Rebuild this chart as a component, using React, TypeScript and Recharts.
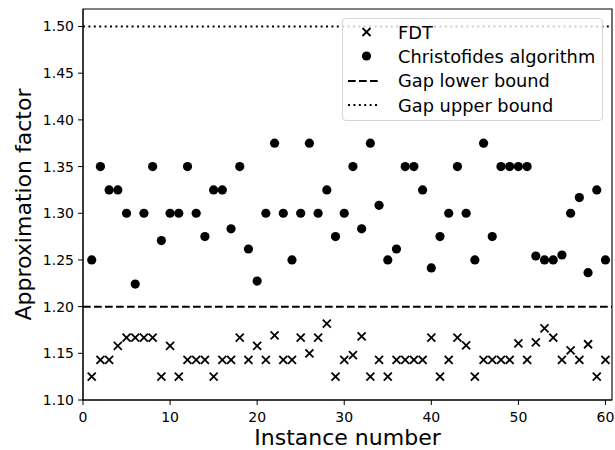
import {
  ScatterChart,
  Scatter,
  XAxis,
  YAxis,
  ReferenceLine,
  ReferenceArea,
  Label,
} from 'recharts'

// Instance numbers 1..60
const INSTANCES = [
  1, 2, 3, 4, 5, 6, 7, 8, 9, 10, 11, 12, 13, 14, 15, 16, 17, 18, 19, 20,
  21, 22, 23, 24, 25, 26, 27, 28, 29, 30, 31, 32, 33, 34, 35, 36, 37, 38, 39, 40,
  41, 42, 43, 44, 45, 46, 47, 48, 49, 50, 51, 52, 53, 54, 55, 56, 57, 58, 59, 60,
]

// Approximation factors
const FDT = [
  1.125, 1.1429, 1.1429, 1.1579, 1.1667, 1.1667, 1.1667, 1.1667, 1.125, 1.1579,
  1.125, 1.1429, 1.1429, 1.1429, 1.125, 1.1429, 1.1429, 1.1667, 1.1429, 1.1579,
  1.1429, 1.1692, 1.1429, 1.1429, 1.1667, 1.15, 1.1667, 1.1818, 1.125, 1.1429,
  1.1481, 1.1682, 1.125, 1.1429, 1.125, 1.1429, 1.1429, 1.1429, 1.1429, 1.1667,
  1.125, 1.1429, 1.1667, 1.1586, 1.125, 1.1429, 1.1429, 1.1429, 1.1429, 1.1607,
  1.1429, 1.1618, 1.1768, 1.1667, 1.1429, 1.1532, 1.1429, 1.1597, 1.125, 1.1429,
]

const CHRISTOFIDES = [
  1.25, 1.35, 1.325, 1.325, 1.3, 1.2242, 1.3, 1.35, 1.2707, 1.3,
  1.3, 1.35, 1.3, 1.275, 1.325, 1.325, 1.2833, 1.35, 1.2617, 1.2274,
  1.3, 1.375, 1.3, 1.25, 1.3, 1.375, 1.3, 1.325, 1.275, 1.3,
  1.35, 1.2833, 1.375, 1.3085, 1.25, 1.2617, 1.35, 1.35, 1.325, 1.2414,
  1.275, 1.3, 1.35, 1.3, 1.25, 1.375, 1.275, 1.35, 1.35, 1.35,
  1.35, 1.2542, 1.25, 1.25, 1.2553, 1.3, 1.3168, 1.2364, 1.325, 1.25,
]

const GAP_LOWER = 1.2
const GAP_UPPER = 1.5

const X_TICKS = [0, 10, 20, 30, 40, 50, 60]
const Y_TICKS = [1.1, 1.15, 1.2, 1.25, 1.3, 1.35, 1.4, 1.45, 1.5]
const X_DOMAIN: [number, number] = [0, 60.75]
const Y_DOMAIN: [number, number] = [1.1, 1.51875]

const LEGEND_LABELS = ['FDT', 'Christofides algorithm', 'Gap lower bound', 'Gap upper bound']

const FONT = '"DejaVu Sans", sans-serif'

const fdtData = INSTANCES.map((x, i) => ({ x, y: FDT[i] }))
const chrisData = INSTANCES.map((x, i) => ({ x, y: CHRISTOFIDES[i] }))

function CrossMarker(props: any) {
  const { cx, cy } = props
  if (cx == null || cy == null) return null
  const h = 4
  return (
    <g stroke="#000" strokeWidth={1.8}>
      <line x1={cx - h} y1={cy - h} x2={cx + h} y2={cy + h} />
      <line x1={cx - h} y1={cy + h} x2={cx + h} y2={cy - h} />
    </g>
  )
}

function DotMarker(props: any) {
  const { cx, cy } = props
  if (cx == null || cy == null) return null
  return <circle cx={cx} cy={cy} r={4.6} fill="#000" />
}

function LegendHandle({ kind }: { kind: number }) {
  return (
    <svg width={34} height={24} style={{ display: 'block' }}>
      {kind === 0 && (
        <g stroke="#000" strokeWidth={1.8}>
          <line x1={14.5} y1={8} x2={22.5} y2={16} />
          <line x1={14.5} y1={16} x2={22.5} y2={8} />
        </g>
      )}
      {kind === 1 && <circle cx={18.5} cy={12} r={4.6} fill="#000" />}
      {kind === 2 && (
        <line x1={0} y1={12} x2={31} y2={12} stroke="#000" strokeWidth={2} strokeDasharray="7.7 3.3" />
      )}
      {kind === 3 && (
        <line x1={0} y1={12} x2={31} y2={12} stroke="#000" strokeWidth={2} strokeDasharray="2 3.4" />
      )}
    </svg>
  )
}

function ChartLegend() {
  return (
    <div
      style={{
        position: 'absolute',
        left: 342,
        top: 18,
        width: 261,
        height: 103,
        boxSizing: 'border-box',
        border: '1px solid #d6d6d6',
        borderRadius: 4,
        background: 'rgba(255,255,255,0.8)',
        paddingTop: 1,
        fontFamily: FONT,
        fontSize: 17.8,
        color: '#000',
      }}
    >
      {LEGEND_LABELS.map((label, i) => (
        <div key={label} style={{ display: 'flex', alignItems: 'center', height: 24.3 }}>
          <div style={{ marginLeft: 5, width: 50 }}>
            <LegendHandle kind={i} />
          </div>
          <span style={{ whiteSpace: 'nowrap' }}>{label}</span>
        </div>
      ))}
    </div>
  )
}

export default function App() {
  const tick = { fontSize: 14, fill: '#000', fontFamily: FONT }
  return (
    <div style={{ position: 'absolute', left: 0, top: 0, width: 615, height: 450, background: '#fff' }}>
      <ScatterChart width={615} height={450} margin={{ top: 9, right: 3, bottom: 0, left: 0 }}>
        <XAxis
          type="number"
          dataKey="x"
          domain={X_DOMAIN}
          ticks={X_TICKS}
          allowDataOverflow
          height={50}
          tick={tick}
          tickSize={5}
          tickMargin={7}
          stroke="#000"
        >
          <Label
            content={({ viewBox }: any) => (
              <text
                x={viewBox.x + viewBox.width / 2}
                y={viewBox.y + 45}
                textAnchor="middle"
                fontSize={22}
                fontFamily={FONT}
                fill="#000"
              >
                Instance number
              </text>
            )}
          />
        </XAxis>
        <YAxis
          type="number"
          dataKey="y"
          domain={Y_DOMAIN}
          ticks={Y_TICKS}
          allowDataOverflow
          width={83}
          tick={tick}
          tickSize={5}
          tickMargin={4}
          tickFormatter={(v: number) => v.toFixed(2)}
          stroke="#000"
        >
          <Label
            content={({ viewBox }: any) => {
              const cx = 31
              const cy = viewBox.y + viewBox.height / 2
              return (
                <text
                  x={cx}
                  y={cy}
                  textAnchor="middle"
                  transform={`rotate(-90, ${cx}, ${cy})`}
                  fontSize={22}
                  fontFamily={FONT}
                  fill="#000"
                >
                  Approximation factor
                </text>
              )
            }}
          />
        </YAxis>
        <ReferenceLine y={GAP_LOWER} stroke="#000" strokeWidth={2} strokeDasharray="7.7 3.3" />
        <ReferenceLine y={GAP_UPPER} stroke="#000" strokeWidth={2} strokeDasharray="2 3.4" />
        <Scatter name="FDT" data={fdtData} shape={<CrossMarker />} isAnimationActive={false} />
        <Scatter name="Christofides algorithm" data={chrisData} shape={<DotMarker />} isAnimationActive={false} />
        <ReferenceArea
          x1={X_DOMAIN[0]}
          x2={X_DOMAIN[1]}
          y1={Y_DOMAIN[0]}
          y2={Y_DOMAIN[1]}
          fill="none"
          fillOpacity={0}
          stroke="#000"
          strokeWidth={1.1}
        />
      </ScatterChart>
      <ChartLegend />
    </div>
  )
}
